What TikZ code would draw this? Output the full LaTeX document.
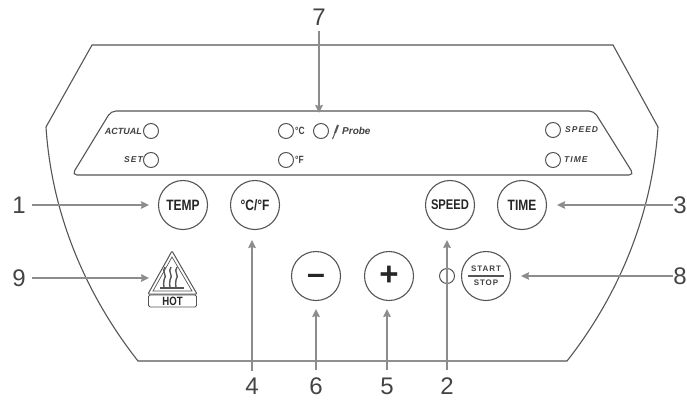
\documentclass[tikz,border=0pt]{standalone}
\usepackage{fontspec}
\setmainfont{Liberation Sans}
\newfontfamily\spacedfont[LetterSpace=12]{Liberation Sans}
\newfontfamily\tightfont[FakeStretch=0.8]{Liberation Sans}
\usetikzlibrary{shapes.geometric, arrows.meta}
\definecolor{inkgray}{HTML}{555555}
\definecolor{arrowgray}{HTML}{8C8C8C}
\definecolor{numgray}{HTML}{444444}
\tikzstyle{button} = [circle, draw=inkgray, line width=1.1pt, minimum size=49pt, inner sep=0pt, text=black!85, font=\fontsize{15}{15}\tightfont\selectfont\bfseries]
\tikzstyle{led} = [circle, draw=inkgray, line width=1pt, minimum size=15pt, inner sep=0pt]
\tikzstyle{tag} = [inner sep=1pt, text=black!75, font=\fontsize{9}{9}\selectfont\bfseries\itshape]
\tikzstyle{unittag} = [inner sep=1pt, text=black!75, font=\fontsize{10.5}{10.5}\tightfont\selectfont\bfseries]
\tikzstyle{widetag} = [inner sep=1pt, text=black!75, font=\fontsize{8.5}{8.5}\spacedfont\selectfont\bfseries\itshape]
\tikzstyle{startstop} = [inner sep=0pt, text=black!75, font=\fontsize{8}{8}\spacedfont\selectfont\bfseries]
\tikzstyle{number} = [inner sep=0pt, text=numgray, font=\fontsize{24}{24}\selectfont]
\tikzstyle{outline} = [draw=inkgray, line width=1.1pt]
\tikzstyle{arrow} = [draw=arrowgray, line width=2pt, -{Stealth[length=8pt, width=7.5pt, inset=1pt]}]

\begin{document}
\begin{tikzpicture}[x=1pt, y=-1pt]
	\useasboundingbox (0,0) rectangle (687,399);

	% panel outlines
	\path [outline] (92,45) -- (613,45) -- (658,127) .. controls (652,220) and (615,300) .. (567,361) -- (138,361) .. controls (90,300) and (52,220) .. (46,127) -- cycle;
	\path [outline, rounded corners=5pt] (111,111) -- (594,111) -- (634,175) -- (72,175) -- cycle;
	\coordinate (paneltop) at (319,113);

	% lamps
	\node (actual) [led] at (151,131) {};
	\node (set) [led] at (151,160) {};
	\node (celsius) [led] at (286,131) {};
	\node (fahrenheit) [led] at (286,160) {};
	\node (probe) [led] at (321,131) {};
	\node (speedlamp) [led] at (553,130) {};
	\node (timelamp) [led] at (553,160) {};
	\node (startlamp) [led] at (447,276) {};

	\node [tag, anchor=east] at (actual.west) {ACTUAL};
	\node [widetag, anchor=east, xshift=1pt] at (set.west) {SET};
	\node [unittag, anchor=west] at (celsius.east) {°C};
	\node [unittag, anchor=west] at (fahrenheit.east) {°F};
	\node (probetext) [tag, anchor=west, xshift=12pt, font=\fontsize{10}{10}\selectfont\bfseries\itshape] at (probe.east) {Probe};
	\node [widetag, anchor=west, xshift=3pt] at (speedlamp.east) {SPEED};
	\node [widetag, anchor=west, xshift=2pt] at (timelamp.east) {TIME};
	\draw [inkgray, line width=2pt] (335,133) -- (338,125);
	\draw [inkgray, line width=1pt] (335,133) -- (332.5,139);

	% buttons
	\node (temp) [button] at (183,205) {TEMP};
	\node (unit) [button, right of=temp, node distance=72pt] {°C/°F};
	\node (speed) [button, font=\fontsize{14}{14}\tightfont\selectfont\bfseries] at (450,205) {SPEED};
	\node (time) [button, right of=speed, node distance=72pt] {TIME};
	\node (minus) [button, font=\fontsize{32}{32}\selectfont\bfseries] at (316,276) {\smash{\raisebox{-8.5pt}{–}}};
	\node (plus) [button, right of=minus, node distance=73pt, font=\fontsize{33}{33}\selectfont\bfseries] {+};
	\node (start) [button, right of=plus, node distance=97pt] {};
	\node (starttext) [startstop] at (486,269) {START};
	\node (stoptext) [startstop] at (486,283) {STOP};
	\draw [inkgray, line width=1.1pt] (468,276) -- (504,276);

	% hot surface sign
	\draw [inkgray, line width=1pt, rounded corners=1pt] (172,251) -- (197,294) -- (148,294) -- cycle;
	\draw [inkgray, line width=0.7pt] (172,257) -- (192,291) -- (153,291) -- cycle;
	\foreach \wavex in {165,171,177}
		\draw [inkgray, line width=1.4pt] (\wavex,267) .. controls (\wavex-4,272) and (\wavex+3,275) .. (\wavex-1,280) .. controls (\wavex-3,283) and (\wavex,285) .. (\wavex-1,287);
	\draw [inkgray, line width=1.8pt] (160,288) -- (184,288);
	\node (hot) [draw=inkgray, line width=0.9pt, rounded corners=1.5pt, minimum width=48pt, minimum height=12pt, inner sep=0pt, text=black!85, font=\fontsize{12}{12}\tightfont\selectfont\bfseries] at (172.5,301) {HOT};

	% numbers
	\node (one) [number] at (19,205) {1};
	\node (nine) [number] at (19,278) {9};
	\node (three) [number] at (680,205) {3};
	\node (eight) [number] at (680,276) {8};
	\node (seven) [number] at (319,17) {7};
	\node (four) [number] at (252,386) {4};
	\node (six) [number] at (316,386) {6};
	\node (five) [number] at (387,386) {5};
	\node (two) [number] at (447,386) {2};

	\coordinate (hotleft) at (149,278);
	\coordinate (fourtop) at (252,240);
	\coordinate (twotop) at (447,240);
	\coordinate (fivetop) at (387,309);
	\coordinate (sixtop) at (316,309);

	\draw [arrow, shorten <=6pt, shorten >=9pt] (one.east) -- (temp.west);
	\draw [arrow, shorten <=6pt] (nine.east) -- (hotleft);
	\draw [arrow, shorten >=10pt] (three.west) -- (time.east);
	\draw [arrow, shorten >=10pt] (eight.west) -- (start.east);
	\draw [arrow, shorten <=6pt] (seven) -- (paneltop);
	\draw [arrow, shorten <=7pt] (four) -- (fourtop);
	\draw [arrow, shorten <=7pt] (six) -- (sixtop);
	\draw [arrow, shorten <=7pt] (five) -- (fivetop);
	\draw [arrow, shorten <=7pt] (two) -- (twotop);
\end{tikzpicture}
\end{document}
